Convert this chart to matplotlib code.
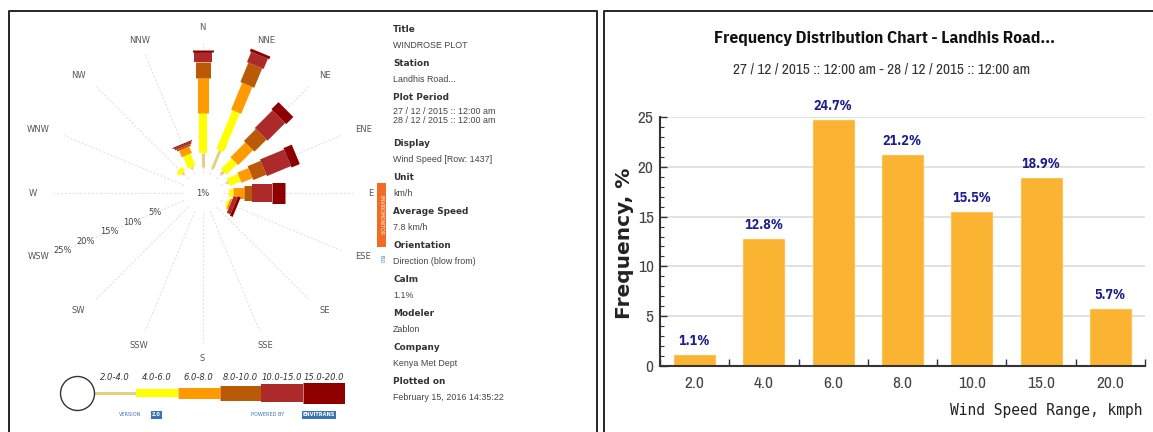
import numpy as np
import matplotlib
matplotlib.use("Agg")
import matplotlib.pyplot as plt
from matplotlib.patches import Rectangle

W, H = 1153, 432
PT = 0.72  # points per pixel at dpi 100

# ---- windrose: % of records per direction and speed class (km/h)
directions = ["N", "NNE", "NE", "ENE", "E", "ESE", "SE", "SSE",
              "S", "SSW", "SW", "WSW", "W", "WNW", "NW", "NNW"]
spd_2_4 = [2.8, 4.0, 0.8, 0.4, 0.0, 0.0, 0, 0, 0, 0, 0, 0, 0, 0, 0.5, 0.4]
spd_4_6 = [8.0, 8.4, 3.0, 2.4, 0.8, 0.4, 0, 0, 0, 0, 0, 0, 0, 0, 0.9, 2.6]
spd_6_8 = [7.0, 5.8, 4.2, 2.4, 2.2, 0.4, 0, 0, 0, 0, 0, 0, 0, 0, 0.0, 1.4]
spd_8_10 = [3.2, 4.2, 3.4, 2.8, 1.6, 0.0, 0, 0, 0, 0, 0, 0, 0, 0, 0.0, 0.4]
spd_10_15 = [2.0, 2.2, 5.0, 5.2, 4.0, 0.8, 0, 0, 0, 0, 0, 0, 0, 0, 0.0, 0.4]
spd_15_20 = [0.4, 0.6, 2.0, 1.8, 2.6, 0.6, 0, 0, 0, 0, 0, 0, 0, 0, 0.0, 0.2]
speed_classes = ["2.0-4.0", "4.0-6.0", "6.0-8.0", "8.0-10.0", "10.0-15.0", "15.0-20.0"]
ring_pcts = [5, 10, 15, 20, 25]
calm_label = "1%"

# ---- frequency distribution
speed_bins = ["2.0", "4.0", "6.0", "8.0", "10.0", "15.0", "20.0"]
freq = [1.1, 12.8, 24.7, 21.2, 15.5, 18.9, 5.7]

info_heads = ["Title", "Station", "Plot Period", "Display", "Unit", "Average Speed",
              "Orientation", "Calm", "Modeler", "Company", "Plotted on"]
info_vals = ["WINDROSE PLOT", "Landhis Road...",
             "27 / 12 / 2015 :: 12:00 am\n28 / 12 / 2015 :: 12:00 am",
             "Wind Speed [Row: 1437]", "km/h", "7.8 km/h", "Direction (blow from)",
             "1.1%", "Zablon", "Kenya Met Dept", "February 15, 2016 14:35:22"]

class_colors = ["#e2d27e", "#ffff00", "#ff9a00", "#bb5a06", "#ad2a2a", "#8e0000"]
class_px = [3, 8, 11, 15, 18, 21]
NARROW = ["Archivo Narrow", "DejaVu Sans"]
NARROW_B = ["IBM Plex Sans Condensed", "Archivo Narrow", "DejaVu Sans"]
R_OFF = 5.2  # empty calm hole in the middle of the rose, in % units

fig = plt.figure(figsize=(W / 100, H / 100), dpi=100)

# pixel-space overlay for frames and free text
bg = fig.add_axes([0, 0, 1, 1])
bg.set_xlim(0, W)
bg.set_ylim(H, 0)
bg.axis("off")
bg.plot([8.5, 8.5, 597, 597], [H, 10.5, 10.5, H], color="#2b2b2b", lw=2 * PT)
bg.plot([603.5, 603.5, W], [H, 10.5, 10.5], color="#2b2b2b", lw=2 * PT)

# ---- windrose
cx, cy, R = 202.5, 193, 151
rose = fig.add_axes([(cx - R) / W, (H - cy - R) / H, 2 * R / W, 2 * R / H],
                    projection="polar")
rose.set_theta_zero_location("N")
rose.set_theta_direction(-1)
rose.set_ylim(0, 25 + R_OFF)
theta = np.deg2rad(np.arange(len(directions)) * 22.5)
rose.set_xticks(theta)
rose.set_xticklabels(directions)
rose.tick_params(axis="x", length=0, pad=3.5, labelsize=6, labelcolor="#555555")
for t, lab in zip(theta, rose.get_xticklabels()):
    s = np.sin(t)
    lab.set_ha("left" if s > 0.5 else ("right" if s < -0.5 else "center"))
rose.grid(False)
for t in theta:
    rose.plot([t, t], [4.0, 24.8 + R_OFF], color="#e3e3e3", lw=0.8, ls=(0, (2, 1.5)), zorder=1)
rose.set_yticks([])
for s in rose.spines.values():
    s.set_visible(False)
rose.set_facecolor("none")
for p in ring_pcts:
    rose.text(np.deg2rad(247.5), p + R_OFF, f"{p}%", ha="center", va="center",
              fontsize=6, color="#444444")
rose.text(0.5, 0.5, calm_label, transform=rose.transAxes, ha="center", va="center",
          fontsize=6, color="#444444")

stack = np.array([spd_2_4, spd_4_6, spd_6_8, spd_8_10, spd_10_15, spd_15_20])
base = np.full(len(directions), R_OFF)
for k in range(len(speed_classes)):
    for i in range(len(directions)):
        v = stack[k, i]
        if v > 0:
            rose.plot([theta[i], theta[i]], [base[i], base[i] + v], color=class_colors[k],
                      lw=class_px[k] * PT, solid_capstyle="butt", clip_on=False, zorder=3)
    base += stack[k]

# ---- speed legend under the rose
lg = fig.add_axes([52.2 / W, (H - 418) / H, (345 - 52.2) / W, 50 / H])
lg.set_xlim(-1, 6)
lg.set_ylim(-1, 1)
lg.axis("off")
for k, lab in enumerate(speed_classes):
    lg.plot([k, k + 1], [0, 0], color=class_colors[k], lw=class_px[k] * PT,
            solid_capstyle="butt")
    lg.text(k + 0.5, 0.6, lab, ha="center", va="center", fontsize=6,
            style="italic", color="#333333")
lg.plot([-0.41], [0], "o", ms=34 * PT, mfc="white", mec="#333333", mew=1)
blue = "#3b73b9"
lg.text(0.86, -0.88, "VERSION", ha="center", va="center", fontsize=3.6, color=blue)
lg.text(1.49, -0.88, "2.0", ha="center", va="center", fontsize=3.6, color="white",
        weight="bold", bbox=dict(fc=blue, ec="none", pad=0.8))
lg.text(4.14, -0.88, "POWERED BY", ha="center", va="center", fontsize=3.6, color=blue)
lg.text(5.38, -0.88, "ENVITRANS", ha="center", va="center", fontsize=3.6, color="white",
        weight="bold", bbox=dict(fc=blue, ec="none", pad=0.8))

# orange side tab
bg.add_patch(Rectangle((377, 183), 9, 64, color="#f26c23", lw=0))
bg.text(381.5, 215, "ENVIROMONITOR", rotation=-90, ha="center", va="center",
        fontsize=3.3, color="white")
bg.text(381, 259, "ISO", rotation=-90, ha="center", va="center", fontsize=3.5, color=blue)

# info column
for i, (h, v) in enumerate(zip(info_heads, info_vals)):
    y = 29 + 34 * i + (12 if i >= 3 else 0)
    bg.text(393, y, h, ha="left", va="center", fontsize=6.4, weight="bold", color="#333333")
    if "\n" in v:
        bg.text(393, y + 10, v, ha="left", va="top", fontsize=6.4, color="#444444",
                family="Liberation Sans", linespacing=1.05)
    else:
        bg.text(393, y + 16, v, ha="left", va="center", fontsize=6.4, color="#444444",
                family="Liberation Sans")

# ---- frequency distribution bar chart
ax = fig.add_axes([660 / W, (H - 366) / H, 485 / W, 249 / H])
x = np.arange(len(speed_bins))
ax.bar(x, freq, width=0.59, color="#fbb332", edgecolor="#fdc257", lw=0.8, zorder=2)
ax.set_xlim(-0.5, len(speed_bins) - 0.5)
ax.set_ylim(0, 25)
ax.set_yticks(np.arange(0, 26, 5))
ax.set_yticks(np.arange(0, 26, 1), minor=True)
ax.set_xticks(x)
ax.set_xticklabels(speed_bins)
ax.set_xticks(np.arange(-0.5, len(speed_bins)), minor=True)
ax.grid(axis="y", which="major", color="#dcdcdc", lw=1.2, zorder=0)
for s in ["top", "right"]:
    ax.spines[s].set_visible(False)
for s in ["left", "bottom"]:
    ax.spines[s].set_color("#333333")
    ax.spines[s].set_linewidth(1.5)
ax.tick_params(axis="y", which="major", direction="in", length=5, width=1, color="#333333",
               labelsize=12.5, labelcolor="#444444", pad=4.5)
ax.tick_params(axis="y", which="minor", direction="in", length=3, width=0.8, color="#333333")
ax.tick_params(axis="x", which="major", length=0, labelsize=12.5, labelcolor="#444444", pad=7)
ax.tick_params(axis="x", which="minor", direction="in", length=5, width=1, color="#333333")
for lab in ax.get_xticklabels() + ax.get_yticklabels():
    lab.set_family(NARROW)
for xi, v in zip(x, freq):
    ax.annotate(f"{v}%", (xi, v), xytext=(0, 5), textcoords="offset points",
                ha="center", va="bottom", fontsize=10, weight="bold", color="#1d1d8e",
                family=NARROW_B)

bg.text(884, 38, "Frequency Distribution Chart - Landhis Road...", ha="center", va="center",
        fontsize=12.5, weight="bold", color="#111111", family=NARROW_B)
bg.text(882, 69, "27 / 12 / 2015 :: 12:00 am - 28 / 12 / 2015 :: 12:00 am", ha="center",
        va="center", fontsize=11, color="#333333", family=NARROW)
bg.text(624, 243, "Frequency, %", rotation=90, ha="center", va="center", fontsize=14.5,
        weight="bold", color="#222222")
bg.text(1143, 411, "Wind Speed Range, kmph", ha="right", va="center", fontsize=10.5,
        color="#222222", family="DejaVu Sans Mono")

fig.savefig("out.png", dpi=100)
